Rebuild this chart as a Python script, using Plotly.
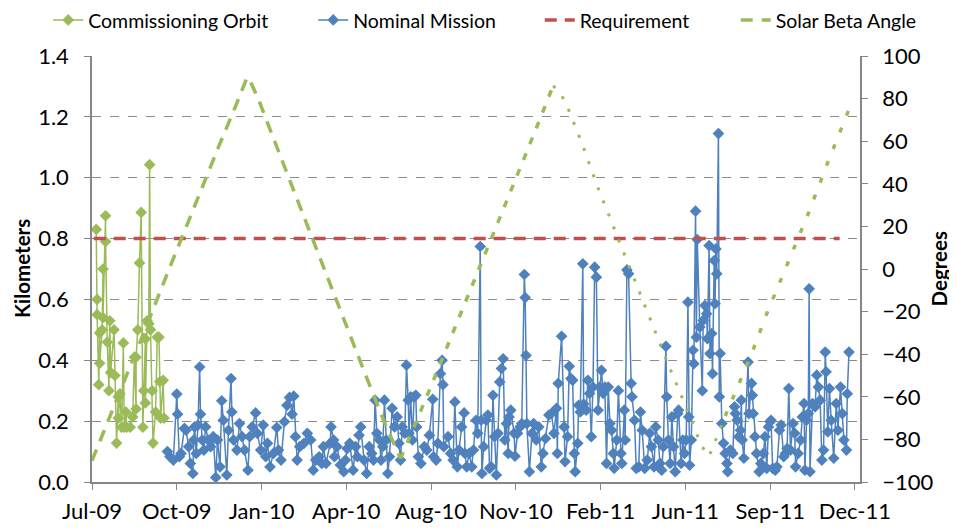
import plotly.graph_objects as go
import pandas as pd

# day offsets are counted from 1 Jul 2009
START = pd.Timestamp("2009-07-01")

comm_days = [5, 6, 6, 8, 9, 9, 12, 13, 13, 16, 16, 18, 20, 21, 22, 26, 27, 29, 31, 31,
             33, 35, 37, 38, 40, 41, 45, 48, 50, 52, 52, 54, 56, 58, 60, 61, 63, 63, 65, 67,
             68, 69, 71, 72, 75, 77, 79, 80, 81, 84, 85]
comm_km = [0.83, 0.60, 0.55, 0.32, 0.49, 0.39, 0.50, 0.70, 0.54, 0.875, 0.79, 0.46, 0.30, 0.53,
           0.36, 0.50, 0.35, 0.128, 0.28, 0.21, 0.29, 0.18, 0.457, 0.18, 0.23, 0.18, 0.18, 0.214,
           0.41, 0.24, 0.41, 0.50, 0.72, 0.886, 0.18, 0.30, 0.47, 0.26, 0.53, 0.52, 1.043, 0.50,
           0.30, 0.128, 0.23, 0.476, 0.476, 0.33, 0.21, 0.334, 0.21]

nom_days = [
    # Oct-09 .. Feb-10
    89, 92, 96, 100, 101, 103, 105, 109, 111, 114, 116, 119, 120, 121, 123, 125, 127, 128, 130, 132,
    134, 137, 140, 143, 146, 148, 151, 153, 155, 159, 161, 164, 165, 167, 171, 174, 177, 180, 184, 186,
    189, 193, 195, 199, 202, 205, 207, 210, 214, 218, 220, 223, 227, 230, 233, 236, 238, 240, 242, 245,
    # Mar-10 .. Aug-10
    250, 254, 258, 261, 264, 268, 271, 273, 276, 281, 282, 285, 286, 289, 293, 297, 299, 301, 304, 308,
    311, 313, 315, 317, 321, 324, 327, 330, 332, 334, 336, 339, 341, 343, 345, 347, 349, 351, 354, 357,
    360, 362, 364, 366, 369, 371, 373, 374, 376, 378, 380, 382, 383, 385, 388, 392, 395, 398, 402, 403,
    406, 408, 411, 413, 414, 415,
    # Aug-10 .. Jan-11
    420, 423, 426, 428, 431, 433, 436, 439, 440, 442, 445, 448, 450, 453, 455, 458, 459, 460, 462, 465,
    467, 469, 471, 473, 475, 477, 479, 481, 483, 485, 487, 489, 491, 492, 494, 498, 499, 502, 505, 507,
    510, 511, 512, 513, 516, 519, 521, 524, 527, 530, 532, 535, 539, 542, 545, 548, 549, 550, 554, 557,
    558, 561, 563, 565, 567, 569, 570, 573, 574, 576, 579, 580,
    # Feb-11 .. Jul-11
    583, 585, 587, 589, 591, 593, 595, 597, 599, 601, 603, 605, 607, 609, 611, 613, 615, 616, 619, 621,
    624, 625, 628, 629, 631, 633, 636, 637, 640, 642, 645, 647, 649, 652, 655, 658, 660, 663, 665, 668,
    670, 672, 674, 677, 678, 680, 682, 684, 686, 688, 691, 692, 695, 697, 699, 701, 703, 704, 705, 707,
    709, 710, 712, 713, 714, 717, 720, 721, 723, 725, 726, 728, 729, 731, 732, 734, 735, 736, 737, 739,
    740, 741, 743, 745, 747,
    # Jul-11 .. Dec-11
    749, 750, 753, 756, 758, 759, 761, 763, 765, 766, 767, 769, 774, 775, 778, 779, 780, 782, 784, 787,
    789, 792, 794, 796, 798, 800, 801, 803, 806, 808, 811, 813, 816, 818, 820, 822, 824, 827, 829, 830,
    833, 836, 838, 840, 841, 843, 845, 846, 847, 850, 853, 855, 857, 859, 861, 863, 865, 866, 868, 870,
    872, 875, 878, 880, 883, 885, 887, 890, 891, 893,
]
nom_km = [
    0.10, 0.083, 0.072, 0.289, 0.223, 0.083, 0.094, 0.176, 0.17, 0.116, 0.061, 0.028, 0.138, 0.181, 0.094,
    0.187, 0.378, 0.223, 0.138, 0.105, 0.181, 0.138, 0.116, 0.149, 0.015, 0.138, 0.05, 0.267, 0.203, 0.023,
    0.17, 0.34, 0.23, 0.138, 0.105, 0.192, 0.149, 0.105, 0.039, 0.149, 0.181, 0.227, 0.16, 0.105, 0.187,
    0.083, 0.127, 0.05, 0.094, 0.179, 0.105, 0.072, 0.198, 0.252, 0.278, 0.223, 0.282, 0.149, 0.072, 0.116,

    0.127, 0.16, 0.138, 0.039, 0.072, 0.083, 0.061, 0.116, 0.061, 0.127, 0.181, 0.138, 0.083, 0.116, 0.056,
    0.034, 0.072, 0.11, 0.127, 0.039, 0.116, 0.083, 0.154, 0.181, 0.072, 0.028, 0.116, 0.094, 0.072, 0.269,
    0.16, 0.138, 0.072, 0.116, 0.269, 0.138, 0.028, 0.083, 0.242, 0.181, 0.214, 0.127, 0.072, 0.181, 0.16,
    0.384, 0.269, 0.16, 0.28, 0.138, 0.28, 0.285, 0.181, 0.083, 0.061, 0.116, 0.105, 0.154, 0.272, 0.083,
    0.072, 0.127, 0.356, 0.40, 0.32, 0.116,

    0.149, 0.094, 0.072, 0.263, 0.05, 0.105, 0.181, 0.227, 0.094, 0.05, 0.094, 0.05, 0.105, 0.203, 0.16,
    0.774, 0.203, 0.028, 0.116, 0.203, 0.22, 0.045, 0.05, 0.285, 0.149, 0.023, 0.16, 0.329, 0.373, 0.405,
    0.138, 0.192, 0.094, 0.214, 0.236, 0.16, 0.085, 0.16, 0.181, 0.192, 0.682, 0.606, 0.416, 0.192, 0.034,
    0.16, 0.192, 0.138, 0.181, 0.05, 0.094, 0.143, 0.22, 0.225, 0.16, 0.242, 0.094, 0.324, 0.479, 0.181,
    0.067, 0.149, 0.38, 0.34, 0.334, 0.094, 0.034, 0.127, 0.252, 0.23, 0.717, 0.256,

    0.236, 0.334, 0.291, 0.149, 0.312, 0.706, 0.673, 0.236, 0.312, 0.367, 0.291, 0.312, 0.061, 0.312, 0.192,
    0.17, 0.094, 0.045, 0.138, 0.30, 0.094, 0.061, 0.236, 0.138, 0.697, 0.684, 0.324, 0.28, 0.203, 0.045,
    0.05, 0.23, 0.17, 0.045, 0.072, 0.16, 0.116, 0.05, 0.181, 0.138, 0.061, 0.039, 0.116, 0.446, 0.28,
    0.138, 0.061, 0.214, 0.116, 0.034, 0.225, 0.236, 0.061, 0.138, 0.094, 0.138, 0.591, 0.214, 0.055, 0.138,
    0.433, 0.389, 0.89, 0.476, 0.797, 0.509, 0.30, 0.531, 0.58, 0.553, 0.471, 0.777, 0.422, 0.488, 0.356,
    0.728, 0.586, 0.766, 0.684, 1.145, 0.28, 0.422, 0.192, 0.127, 0.094,

    0.061, 0.034, 0.105, 0.094, 0.247, 0.225, 0.203, 0.149, 0.17, 0.269, 0.138, 0.078, 0.394, 0.225, 0.324,
    0.285, 0.225, 0.149, 0.094, 0.034, 0.061, 0.094, 0.149, 0.045, 0.181, 0.198, 0.203, 0.045, 0.039, 0.05,
    0.17, 0.187, 0.083, 0.094, 0.11, 0.307, 0.105, 0.192, 0.16, 0.05, 0.094, 0.138, 0.214, 0.258, 0.039,
    0.203, 0.225, 0.635, 0.034, 0.258, 0.247, 0.351, 0.312, 0.269, 0.072, 0.105, 0.427, 0.362, 0.165, 0.307,
    0.203, 0.078, 0.258, 0.17, 0.312, 0.225, 0.138, 0.105, 0.29, 0.427,
]

req_days = [2, 882]
req_km = [0.8, 0.8]

beta_days = [0, 30, 60, 90, 120, 150, 170, 178, 183, 188, 196, 230, 260, 290, 320, 345, 358, 364,
             370, 380, 400, 430, 460, 490, 520, 535, 544, 552, 560, 579, 595, 614, 642, 661, 680,
             700, 719, 728, 747, 767, 777, 796, 820, 845, 868, 880, 893]
beta_deg = [-90, -61, -31, -1, 29, 58, 77, 85, 90, 87, 80, 45, 14, -17, -47, -72, -84, -89,
            -83, -74, -55, -26, 3, 32, 62, 77, 86, 83, 77, 58, 40, 21, -7, -26, -45,
            -64, -83, -88, -69, -51, -41, -21, 2, 26, 50, 62, 75]

tick_days = [0, 100, 200, 300, 400, 500, 600, 700, 800, 900]
tick_text = ["Jul-09", "Oct-09", "Jan-10", "Apr-10", "Aug-10", "Nov-10", "Feb-11", "Jun-11",
             "Sep-11", "Dec-11"]


def to_dates(days):
    return [START + pd.Timedelta(days=d) for d in days]


GREEN = "#9BBB59"
BLUE = "#4F81BD"
RED = "#C0504D"
FONT = "Lato"

fig = go.Figure()

fig.add_trace(go.Scatter(
    x=to_dates(comm_days), y=comm_km, mode="lines+markers", name="Commissioning Orbit",
    line=dict(color=GREEN, width=1.5),
    marker=dict(symbol="diamond", size=9, color=GREEN),
    legend="legend",
))
fig.add_trace(go.Scatter(
    x=to_dates(nom_days), y=nom_km, mode="lines+markers", name="Nominal Mission",
    line=dict(color=BLUE, width=1.5),
    marker=dict(symbol="diamond", size=9, color=BLUE),
    legend="legend",
))
fig.add_trace(go.Scatter(
    x=to_dates(req_days), y=req_km, mode="lines", name="Requirement",
    line=dict(color=RED, width=3.5, dash="12px,8px"),
    legend="legend2",
))

# the beta angle line gets sparser (dashes -> dots) further along, as in the source
styles = [("12px,9px", 3.5), ("7px,10px", 3.5), ("3px,11px", 3), ("5px,13px", 3.5)]
breaks = [0, beta_days.index(364), beta_days.index(544), beta_days.index(747), len(beta_days) - 1]
for k, (dash, w) in enumerate(styles):
    a, b = breaks[k], breaks[k + 1]
    fig.add_trace(go.Scatter(
        x=to_dates(beta_days[a:b + 1]), y=beta_deg[a:b + 1], mode="lines",
        name="Solar Beta Angle", showlegend=(k == 0), yaxis="y2", legend="legend2",
        line=dict(color=GREEN, width=w, dash=dash),
    ))

axis_col = "#868686"
fig.update_layout(
    # the page body adds an 8px offset, so the figure is 8px smaller than the window
    width=949, height=521,
    margin=dict(l=84, r=97, t=48, b=47, autoexpand=False),
    plot_bgcolor="white", paper_bgcolor="white",
    font=dict(family=FONT, color="black", size=19),
    showlegend=True,
    legend=dict(
        orientation="h", x=-0.057, xanchor="left", y=1.084, yanchor="middle",
        font=dict(size=19.5), entrywidth=220, bgcolor="rgba(0,0,0,0)",
    ),
    legend2=dict(
        orientation="h", x=0.583, xanchor="left", y=1.084, yanchor="middle",
        font=dict(size=19.5), entrywidth=151, bgcolor="rgba(0,0,0,0)",
    ),
    xaxis=dict(
        type="date", automargin=False,
        range=[START, START + pd.Timedelta(days=906)],
        tickvals=to_dates(tick_days), ticktext=tick_text,
        showgrid=False, showline=True, linecolor=axis_col, linewidth=1.5,
        ticks="outside", ticklen=6, tickcolor=axis_col,
        tickfont=dict(size=22), ticklabelstandoff=3,
    ),
    yaxis=dict(
        range=[0, 1.4], dtick=0.2, tickformat=".1f", automargin=False,
        showgrid=True, gridcolor="#8c8c8c", griddash="dash", gridwidth=1.2,
        showline=True, linecolor=axis_col, linewidth=1.5,
        ticks="outside", ticklen=6, tickcolor=axis_col,
        zeroline=False, tickfont=dict(size=22), ticklabelstandoff=11,
    ),
    yaxis2=dict(
        overlaying="y", side="right", automargin=False,
        range=[-100, 100], dtick=20,
        showgrid=False, zeroline=False,
        showline=True, linecolor=axis_col, linewidth=1.5,
        ticks="outside", ticklen=6, tickcolor=axis_col,
        tickfont=dict(size=22), ticklabelstandoff=10,
    ),
    annotations=[
        dict(text="<b>Kilometers</b>", textangle=-90, showarrow=False,
             xref="paper", yref="paper", x=-0.0911, y=0.5,
             xanchor="center", yanchor="middle", font=dict(size=20.5)),
        dict(text="<b>Degrees</b>", textangle=-90, showarrow=False,
             xref="paper", yref="paper", x=1.1035, y=0.5,
             xanchor="center", yanchor="middle", font=dict(size=20.5)),
    ],
)

fig.write_html("out.html")
